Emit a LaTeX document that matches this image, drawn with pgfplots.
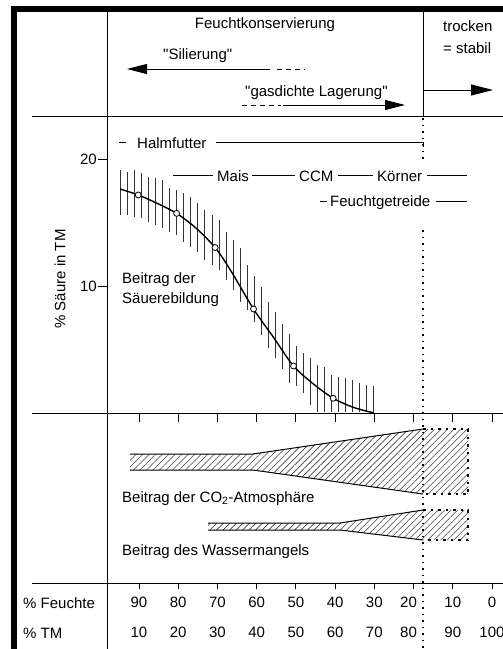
\documentclass[border=0pt]{standalone}
\usepackage{fontspec}
\setmainfont{Liberation Sans}[Ligatures=TeXOff]
\usepackage{pgfplots}
\pgfplotsset{compat=1.18}
\usetikzlibrary{arrows.meta,patterns.meta}

\begin{document}
\begin{tikzpicture}[font=\fontsize{15}{18}\selectfont]
% ---------- frame / schematic layer (pixel coordinates, y downwards) ----------
\begin{axis}[name=A, at={(0,0)}, anchor=south west, scale only axis,
  width=503pt, height=649pt, xmin=0, xmax=503, ymin=0, ymax=649,
  y dir=reverse, hide axis, clip=false]
% black border
\fill[black] (11,6) rectangle (503,12);
\fill[black] (11,6) rectangle (17,649);
% frame lines
\draw[line width=0.8pt] (107,12) -- (107,649);
\draw[line width=0.8pt] (32,116) -- (503,116);
\draw[line width=0.8pt] (32,413) -- (503,413);
\draw[line width=0.8pt] (32,583) -- (503,583);
\draw[line width=0.8pt] (423,12) -- (423,116);
\draw[line width=1.2pt, dash pattern=on 1.5pt off 5pt] (423,118) -- (423,162);
\draw[line width=1.2pt, dash pattern=on 1.5pt off 5pt] (423,230) -- (423,649);
% header
\node[anchor=base, inner sep=0pt] at (265,28) {Feuchtkonservierung};
\node[anchor=base west, inner sep=0pt] at (443,31.5) {trocken};
\node[anchor=base west, inner sep=0pt] at (443,53) {= stabil};
\node[anchor=base west, inner sep=0pt] at (163,59) {"Silierung"};
\draw[line width=1pt, -{Triangle[length=20pt,width=10pt]}] (270,69) -- (127,69);
\draw[line width=1pt, dash pattern=on 5pt off 4pt] (277,69) -- (305,69);
\node[anchor=base west, inner sep=0pt] at (245,96) {"gasdichte Lagerung"};
\draw[line width=1pt, dash pattern=on 5pt off 4pt] (242,105) -- (281,105);
\draw[line width=1pt, -{Triangle[length=20pt,width=10pt]}] (283,105) -- (405,105);
\draw[line width=1pt, -{Triangle[length=22pt,width=11pt]}] (423,90) -- (493,90);
% crop range labels
\node[anchor=base west, inner sep=0pt] at (137,148) {Halmfutter};
\draw[line width=0.8pt] (119,142) -- (126,142);
\draw[line width=0.8pt] (216,142) -- (423,142) -- (423,147);
\draw[line width=0.8pt] (173,175) -- (213,175);
\node[anchor=base west, inner sep=0pt] at (217,181) {Mais};
\draw[line width=0.8pt] (252,175) -- (295,175);
\node[anchor=base west, inner sep=0pt] at (299,181) {CCM};
\draw[line width=0.8pt] (338,175) -- (373,175);
\node[anchor=base west, inner sep=0pt] at (377,181) {Körner};
\draw[line width=0.8pt] (427,175) -- (467,175);
\draw[line width=0.8pt] (320,201) -- (327,201);
\node[anchor=base west, inner sep=0pt] at (330,206) {Feuchtgetreide};
\draw[line width=0.8pt] (436,201) -- (467,201);
\node[rotate=90, inner sep=0pt] at (60,279) {\% Säure in TM};
\node[anchor=base west, inner sep=0pt] at (122,283) {Beitrag der};
\node[anchor=base west, inner sep=0pt] at (122,303) {Säuerebildung};
% lower section: contribution bands
\addplot[draw=none, pattern={Lines[angle=45,distance=4.6pt,line width=0.6pt]}, pattern color=black!75]
  coordinates {(130,454) (253,454) (423,429) (468,429) (468,494) (423,494) (253,470) (130,470)} -- cycle;
\addplot[black, line width=1pt] coordinates {(130,454) (253,454) (423,429)};
\addplot[black, line width=1pt] coordinates {(130,470) (253,470) (423,494)};
\addplot[black, line width=1.2pt, dash pattern=on 2.5pt off 5pt] coordinates {(423,429) (468,429) (468,494) (423,494)};
\addplot[draw=none, pattern={Lines[angle=45,distance=4.6pt,line width=0.6pt]}, pattern color=black!75]
  coordinates {(208,523) (340,523) (423,510) (468,510) (468,540) (423,540) (340,530) (208,530)} -- cycle;
\addplot[black, line width=1pt] coordinates {(208,523) (340,523) (423,510)};
\addplot[black, line width=1pt] coordinates {(208,530) (340,530) (423,540)};
\addplot[black, line width=1.2pt, dash pattern=on 2.5pt off 5pt] coordinates {(423,510) (468,510) (468,540) (423,540)};
\node[anchor=base west, inner sep=0pt] at (122,502) {Beitrag der CO\textsubscript{2}-Atmosphäre};
\node[anchor=base west, inner sep=0pt] at (122,555) {Beitrag des Wassermangels};
% bottom row captions
\node[anchor=base west, inner sep=0pt] at (23,608.5) {\% Feuchte};
\node[anchor=base west, inner sep=0pt] at (23,638.5) {\% TM};
\end{axis}

% ---------- acid formation chart ----------
\begin{axis}[name=B, at={(107pt,236pt)}, anchor=south west, scale only axis,
  width=396pt, height=297pt,
  xmin=1.841, xmax=102.81, ymin=0, ymax=23.39,
  axis x line*=bottom, axis y line*=left,
  axis line style={line width=0.8pt},
  tick align=outside, major tick length=9pt,
  tick style={line width=0.8pt, black},
  xtick={10,20,...,100}, xticklabels={},
  ytick={10,20},
  /pgf/number format/assume math mode=true,
  yticklabel style={font=\fontsize{15}{18}\selectfont, inner sep=1pt},
  clip=false]
\addplot[draw=none, mark=none, forget plot,
  error bars/.cd, y dir=both, y explicit, error mark=none,
  error bar style={line width=1pt, black!80}]
  table[x=x, y=y, y error=e] {
x y e
5.28 17.36 1.77
7.08 17.30 1.71
8.87 17.30 1.84
10.67 17.13 1.77
12.46 16.83 1.77
14.26 16.65 1.85
16.05 16.46 1.89
17.85 15.98 1.73
19.64 15.79 1.77
21.44 15.39 1.93
23.23 15.06 1.97
25.03 14.61 1.93
26.82 14.02 1.97
28.62 13.62 1.97
30.41 13.23 1.97
32.21 12.37 1.91
34.00 11.65 1.97
35.80 10.87 2.13
37.59 9.88 1.77
39.39 8.98 1.81
41.18 8.03 1.89
42.98 6.93 1.81
44.77 6.14 1.81
46.57 5.20 1.77
48.36 4.30 1.93
50.16 3.70 1.57
51.95 3.15 1.57
53.75 2.48 1.85
55.54 1.93 1.85
57.34 1.85 1.77
59.13 1.54 1.46
60.93 1.46 1.38
62.72 1.42 1.34
64.52 1.34 1.26
66.31 1.22 1.14
68.11 1.14 1.06
69.90 1.10 1.02
};
\addplot[smooth, black, line width=1.4pt, mark=none] coordinates {
(5.16,17.64) (9.8,17.17) (14.7,16.5) (19.6,15.72) (24.5,14.57) (29.4,13.03)
(33.2,11.31) (39.2,8.19) (44.2,6.0) (49.4,3.70) (54.5,2.28) (59.5,1.16)
(64.6,0.45) (69.9,0.0)};
\addplot[only marks, mark=*, mark size=3pt, mark options={fill=white, draw=black, line width=0.8pt}]
  coordinates {(9.8,17.17) (19.6,15.72) (29.4,13.03) (39.2,8.19) (49.4,3.70) (59.5,1.16)};
\end{axis}

% ---------- moisture / dry matter scale ----------
\begin{axis}[name=C, at={(107pt,66pt)}, anchor=south west, scale only axis,
  width=396pt, height=20pt,
  xmin=1.841, xmax=102.81, ymin=0, ymax=1,
  axis x line*=bottom, axis y line=none,
  axis line style={line width=0.8pt},
  tick align=outside, major tick length=6pt,
  tick style={line width=0.8pt, black},
  xtick={10,20,...,100},
  xticklabels={{90\\10},{80\\20},{70\\30},{60\\40},{50\\50},{40\\60},{30\\70},{\kern-10pt 20\\\kern-10pt 80},{10\\90},{0\\100}},
  xticklabel style={align=center, font=\fontsize{15}{30}\selectfont, inner sep=0pt, yshift=-8pt}]
\end{axis}

\pgfresetboundingbox
\useasboundingbox (0,0) rectangle (503pt,649pt);
\end{tikzpicture}
\end{document}
